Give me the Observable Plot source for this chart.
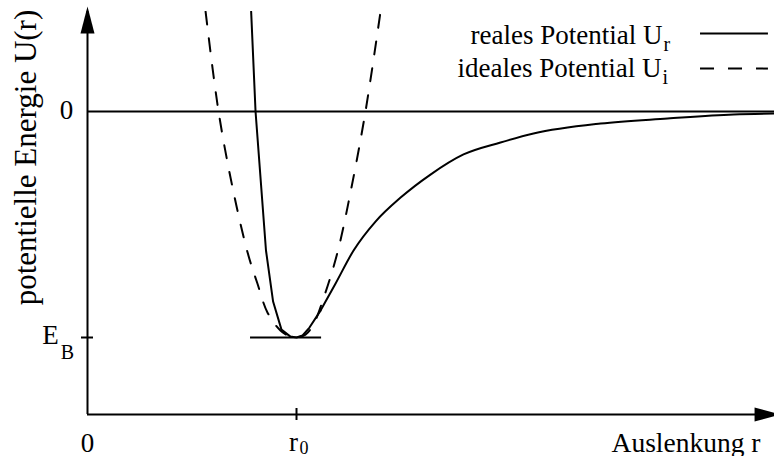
<!DOCTYPE html>
<html><head><meta charset="utf-8">
<script src="https://cdn.jsdelivr.net/npm/d3@7"></script>
<script src="https://cdn.jsdelivr.net/npm/@observablehq/plot@0.6"></script>
<style>html,body{margin:0;padding:0;background:#fff}#chart svg{display:block}#chart svg text{font-family:'Liberation Serif','Times New Roman',serif !important}</style>
</head><body><div id="chart"></div>
<script>
// Auslenkung r in units of r0, potential energy U in units of |E_B|
const realR = [0.783, 0.804, 0.836, 0.854, 0.888, 0.928, 0.971, 1.000, 1.029, 1.062, 1.115, 1.187, 1.273, 1.378, 1.498, 1.641, 1.799, 1.976, 2.134, 2.455, 2.775, 3.091, 3.287];
const realU = [0.442, 0.000, -0.394, -0.615, -0.841, -0.965, -0.996, -1.000, -0.991, -0.956, -0.881, -0.761, -0.615, -0.487, -0.381, -0.279, -0.190, -0.137, -0.097, -0.053, -0.031, -0.013, -0.009];
const idealR = [0.565, 0.627, 0.694, 0.766, 0.813, 0.861, 0.923, 0.971, 1.000, 1.043, 1.081, 1.129, 1.196, 1.263, 1.330, 1.402];
const idealU = [0.442, 0.000, -0.336, -0.624, -0.761, -0.889, -0.969, -0.996, -1.000, -0.987, -0.942, -0.827, -0.624, -0.336, 0.000, 0.442];
const bindingEnergy = -1;
const bindingSegment = [0.780, 1.120];
const seriesNames = ["reales Potential U", "ideales Potential U"];
const seriesSubs = ["r", "i"];
const yTickLabels = ["0", "E", "B"];
const xTickLabels = ["0", "r", "0"];
const yLabel = "potentielle Energie U(r)";
const xLabel = "Auslenkung r";

const xDomain = [0, 3.287];
const yDomain = [-1.3407, 0.4425];

const real = realR.map((r, i) => ({r, u: realU[i]}));
const realInner = real.slice(0, 11);
const realOuter = real.slice(10);
const ideal = idealR.map((r, i) => ({r, u: idealU[i]}));

const arrowUp = {draw(ctx) { ctx.moveTo(0, 0); ctx.lineTo(7, 27); ctx.lineTo(-7, 27); ctx.closePath(); }};
const arrowRight = {draw(ctx) { ctx.moveTo(0, 0); ctx.lineTo(-26, 7); ctx.lineTo(-26, -7); ctx.closePath(); }};

const font = "Liberation Serif";
const one = [0];
const T = (o) => Plot.text(one, {lineAnchor: "bottom", fontFamily: font, fill: "black", ...o});

const chart = Plot.plot({
  width: 774, height: 456,
  marginLeft: 87, marginRight: 0, marginTop: 11, marginBottom: 42,
  x: {domain: xDomain, axis: null},
  y: {domain: yDomain, axis: null},
  style: {fontFamily: font, background: "white", color: "black", overflow: "visible"},
  marks: [
    // zero line
    Plot.ruleY([0], {stroke: "black", strokeWidth: 2}),
    // axes
    Plot.ruleX([0], {stroke: "black", strokeWidth: 2}),
    Plot.ruleY([yDomain[0]], {stroke: "black", strokeWidth: 2}),
    Plot.dot(one, {x: 0, y: 0.4646, symbol: arrowUp, fill: "black", stroke: null, r: 5}),
    Plot.dot(one, {x: 3.316, y: yDomain[0], symbol: arrowRight, fill: "black", stroke: null, r: 5}),
    // ticks
    Plot.ruleY([bindingEnergy], {x1: -0.0287, x2: 0.0287, stroke: "black", strokeWidth: 2}),
    Plot.ruleX([1], {y1: yDomain[0] - 0.0265, y2: yDomain[0] + 0.0265, stroke: "black", strokeWidth: 2}),
    // binding energy segment
    Plot.ruleY([bindingEnergy], {x1: bindingSegment[0], x2: bindingSegment[1], stroke: "black", strokeWidth: 2}),
    // curves
    Plot.line(ideal, {x: "r", y: "u", stroke: "black", strokeWidth: 2, strokeDasharray: "13,14", curve: "catmull-rom", clip: true}),
    Plot.line(realInner, {x: "r", y: "u", stroke: "black", strokeWidth: 2, curve: "linear", clip: true}),
    Plot.line(realOuter, {x: "r", y: "u", stroke: "black", strokeWidth: 2, curve: "monotone-x", clip: true}),
    // tick labels
    T({x: 0, y: 0, text: [yTickLabels[0]], dx: -21, dy: 7, textAnchor: "middle", fontSize: 27}),
    T({x: 0, y: bindingEnergy, text: [yTickLabels[1]], dx: -37, dy: 6, textAnchor: "middle", fontSize: 27}),
    T({x: 0, y: bindingEnergy, text: [yTickLabels[2]], dx: -20, dy: 21, textAnchor: "middle", fontSize: 20}),
    T({x: 0, y: yDomain[0], text: [xTickLabels[0]], dx: 0, dy: 37, textAnchor: "middle", fontSize: 27}),
    T({x: 1, y: yDomain[0], text: [xTickLabels[1]], dx: -3, dy: 36, textAnchor: "middle", fontSize: 27}),
    T({x: 1, y: yDomain[0], text: [xTickLabels[2]], dx: 3, dy: 39, textAnchor: "start", fontSize: 18}),
    // axis labels
    T({frameAnchor: "bottom-right", text: [xLabel], dx: -14, dy: 37, textAnchor: "end", fontSize: 27.5}),
    T({frameAnchor: "left", text: [yLabel], dx: -52, dy: -55.5, rotate: -90, textAnchor: "middle", fontSize: 31}),
    // legend
    T({frameAnchor: "top-right", text: [seriesNames[0]], dx: -112, dy: 32, textAnchor: "end", fontSize: 27}),
    T({frameAnchor: "top-right", text: [seriesSubs[0]], dx: -111, dy: 39, textAnchor: "start", fontSize: 20}),
    T({frameAnchor: "top-right", text: [seriesNames[1]], dx: -113, dy: 65, textAnchor: "end", fontSize: 27}),
    T({frameAnchor: "top-right", text: [seriesSubs[1]], dx: -112, dy: 72, textAnchor: "start", fontSize: 20}),
    Plot.ruleY([0.345], {x1: 2.933, x2: 3.258, stroke: "black", strokeWidth: 2}),
    Plot.ruleY([0.190], {x1: 2.933, x2: 3.258, stroke: "black", strokeWidth: 2, strokeDasharray: "14,14"})
  ]
});
document.getElementById("chart").appendChild(chart);
</script>
</body></html>
